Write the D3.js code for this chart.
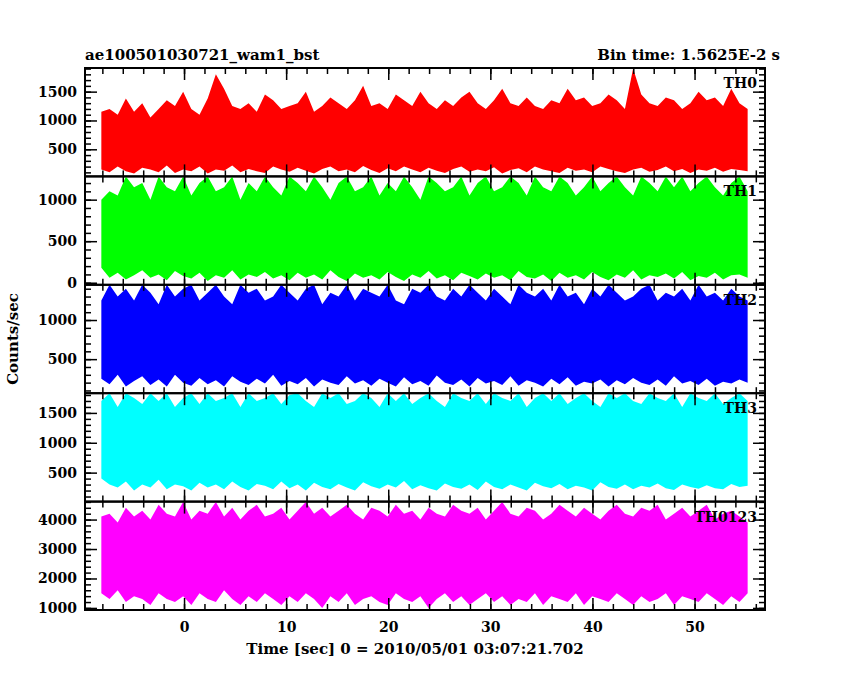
<!DOCTYPE html>
<html><head><meta charset="utf-8">
<script src="https://cdn.jsdelivr.net/npm/d3@7"></script>
<style>body{margin:0;background:#fff}text{font-family:"DejaVu Serif",serif;font-weight:bold}</style>
</head><body><div id="container"></div>
<script>
// time range of the data (sec), bins are evenly spaced between
const tStart = -8.1, tEnd = 55.2;

// per-bin upper / lower envelope of each light curve (counts/sec)
const th0Hi = [1150,1200,1100,1380,1150,1300,1050,1200,1350,1250,1500,1200,1100,1380,1800,1550,1250,1200,1300,1150,1450,1350,1200,1250,1300,1500,1150,1250,1400,1300,1200,1350,1600,1250,1300,1200,1450,1350,1250,1500,1300,1200,1350,1250,1400,1500,1300,1200,1350,1550,1300,1250,1400,1250,1200,1350,1300,1550,1350,1400,1250,1300,1450,1350,1200,1900,1450,1300,1250,1400,1350,1200,1300,1500,1350,1400,1250,1550,1300,1200];
const th0Lo = [150,100,200,120,80,180,150,100,220,90,150,120,200,80,150,130,220,100,160,120,90,200,150,110,180,130,80,160,200,120,150,100,210,140,90,170,120,200,150,100,180,130,90,160,200,110,150,120,190,80,140,170,100,200,150,120,90,180,130,150,100,200,160,120,90,150,180,110,140,200,120,160,90,150,130,180,110,160,140,120];
const th1Hi = [1000,1100,1050,1280,1150,1200,1000,1280,1150,1100,1280,1050,1200,1280,1100,1150,1280,1000,1200,1100,1280,1150,1050,1280,1200,1100,1280,1150,1000,1200,1280,1100,1150,1280,1050,1200,1100,1280,1150,1000,1280,1200,1100,1150,1280,1050,1200,1280,1100,1150,1280,1200,1050,1280,1150,1100,1280,1200,1050,1150,1280,1100,1200,1280,1150,1050,1280,1200,1100,1280,1150,1280,1100,1200,1280,1150,1050,1200,1280,1100];
const th1Lo = [180,60,120,40,90,150,60,100,30,140,80,50,120,20,90,60,150,40,100,70,130,50,90,30,120,60,100,40,150,70,20,110,60,90,40,130,70,20,100,60,140,50,90,30,120,80,40,110,60,90,30,140,70,50,100,20,120,60,90,40,130,70,30,100,60,150,40,90,70,110,50,130,30,80,60,120,40,90,100,60];
const th2Hi = [1250,1450,1300,1400,1250,1450,1350,1200,1450,1300,1400,1450,1250,1350,1450,1300,1200,1450,1350,1400,1250,1300,1450,1350,1250,1400,1450,1200,1350,1300,1450,1250,1400,1350,1300,1450,1250,1200,1400,1350,1450,1300,1250,1400,1300,1450,1350,1250,1400,1300,1200,1450,1350,1300,1400,1250,1450,1300,1350,1200,1400,1300,1450,1350,1250,1300,1400,1450,1250,1350,1300,1400,1250,1450,1300,1350,1250,1400,1300,1250];
const th2Lo = [250,180,300,150,220,280,170,240,150,300,200,160,260,180,230,150,280,210,170,250,190,300,160,220,180,260,150,240,200,170,280,190,230,160,250,200,150,270,180,220,160,290,200,170,240,150,260,190,220,170,280,160,230,200,150,250,180,270,160,210,190,240,150,230,180,260,200,170,240,160,280,190,220,170,250,160,210,190,240,200];
const th3Hi = [1700,1830,1600,1830,1750,1650,1830,1700,1830,1600,1750,1830,1650,1830,1700,1750,1830,1600,1830,1700,1750,1830,1650,1800,1830,1700,1600,1830,1750,1830,1650,1700,1830,1750,1600,1830,1700,1830,1650,1750,1830,1700,1600,1830,1750,1700,1830,1650,1830,1750,1700,1830,1600,1750,1830,1700,1830,1650,1750,1830,1700,1600,1830,1750,1830,1700,1650,1830,1750,1700,1830,1600,1830,1750,1700,1830,1650,1750,1830,1700];
const th3Lo = [400,300,250,350,200,300,250,380,220,300,270,200,330,250,300,220,350,260,200,310,280,220,350,240,300,200,330,260,220,310,250,200,340,270,230,300,250,360,220,290,240,200,320,260,230,300,210,350,260,220,300,250,200,330,270,240,310,220,280,250,200,340,260,230,300,220,280,250,320,240,210,300,260,230,290,240,220,310,260,280];
const th4Hi = [4100,4200,3900,4400,4100,4300,4000,4500,4200,4100,4600,4000,4300,4200,4600,4100,4400,4000,4300,4500,4100,4200,4400,4000,4300,4600,4200,4400,4100,4300,4500,4200,4000,4400,4300,4100,4500,4200,4300,4000,4400,4200,4100,4500,4300,4200,4400,4000,4300,4600,4200,4100,4400,4300,4000,4200,4500,4300,4100,4400,4200,4000,4300,4500,4200,4100,4400,4300,4500,4000,4200,4400,4100,4300,4500,4000,4200,4300,4100,3900];
const th4Lo = [1500,1300,1600,1200,1400,1300,1100,1500,1300,1200,1400,1100,1500,1300,1200,1600,1300,1100,1400,1200,1500,1300,1100,1400,1200,1500,1300,1000,1400,1200,1500,1100,1300,1400,1200,1100,1500,1300,1200,1400,1000,1300,1500,1200,1400,1100,1300,1500,1200,1400,1100,1300,1200,1500,1100,1400,1300,1200,1500,1100,1400,1300,1200,1500,1300,1100,1400,1200,1300,1500,1100,1400,1300,1200,1500,1300,1100,1400,1200,1500];

const panels = [
  {name: "TH0", hi: th0Hi, lo: th0Lo, color: "#ff0000", domain: [30, 1910], ticks: [500, 1000, 1500], minor: 100},
  {name: "TH1", hi: th1Hi, lo: th1Lo, color: "#00ff00", domain: [-25, 1280], ticks: [0, 500, 1000], minor: 100},
  {name: "TH2", hi: th2Hi, lo: th2Lo, color: "#0000ff", domain: [65, 1450], ticks: [500, 1000], minor: 100},
  {name: "TH3", hi: th3Hi, lo: th3Lo, color: "#00ffff", domain: [15, 1830], ticks: [500, 1000, 1500], minor: 100},
  {name: "TH0123", hi: th4Hi, lo: th4Lo, color: "#ff00ff", domain: [930, 4610], ticks: [1000, 2000, 3000, 4000], minor: 200}
];
const xTicks = [0, 10, 20, 30, 40, 50];

const W = 850, H = 680;
const mLeft = 85, mRight = 765, mTop = 68, mBottom = 610;
const ph = (mBottom - mTop) / panels.length;

const svg = d3.select("#container").append("svg").attr("width", W).attr("height", H);

const x = d3.scaleLinear().domain([-9.7, 56.9]).range([mLeft, mRight]);

panels.forEach((p, i) => {
  const y0 = mTop + i * ph;
  const y = d3.scaleLinear().domain(p.domain).range([y0 + ph, y0]);
  const n = p.hi.length;
  const dt = (tEnd - tStart) / (n - 1);
  const pts = p.hi.map((h, k) => ({t: tStart + k * dt, hi: h, lo: p.lo[k]}));

  const g = svg.append("g");
  g.append("clipPath").attr("id", "c" + i).append("rect")
    .attr("x", mLeft).attr("y", y0).attr("width", mRight - mLeft).attr("height", ph);
  g.append("path").datum(pts)
    .attr("clip-path", "url(#c" + i + ")")
    .attr("fill", p.color)
    .attr("d", d3.area()
      .x(d => x(d.t)).y0(d => y(d.lo)).y1(d => y(d.hi)));

  // y axes, both sides
  const yl = g.append("g").attr("transform", `translate(${mLeft},0)`)
    .call(d3.axisLeft(y).tickValues(p.ticks).tickSize(-12).tickFormat(d3.format("d")));
  const minorVals = d3.range(Math.ceil(p.domain[0] / p.minor) * p.minor, p.domain[1], p.minor);
  g.append("g").attr("transform", `translate(${mLeft},0)`)
    .call(d3.axisLeft(y).tickValues(minorVals).tickSize(-6).tickFormat(""));
  g.append("g").attr("transform", `translate(${mRight},0)`)
    .call(d3.axisRight(y).tickValues(p.ticks).tickSize(-12).tickFormat(""));
  g.append("g").attr("transform", `translate(${mRight},0)`)
    .call(d3.axisRight(y).tickValues(minorVals).tickSize(-6).tickFormat(""));
  g.selectAll(".domain").remove();
  yl.selectAll(".tick text").attr("x", -8).attr("font-size", 14)
    .style("font-family", "DejaVu Serif").style("font-weight", "bold").attr("fill", "#000");

  // x ticks for every panel, top and bottom edges
  const minorX = d3.range(-8, 57, 2);
  [[y0 + ph, -1], [y0, 1]].forEach(([yy, s]) => {
    g.append("g").attr("transform", `translate(0,${yy})`)
      .call(d3.axisBottom(x).tickValues(xTicks).tickSize(12 * s).tickFormat(""));
    g.append("g").attr("transform", `translate(0,${yy})`)
      .call(d3.axisBottom(x).tickValues(minorX).tickSize(6 * s).tickFormat(""));
  });
  g.selectAll(".domain").remove();
  g.selectAll(".tick line").attr("stroke", "#000").attr("stroke-width", 1.5);

  g.append("rect").attr("x", mLeft).attr("y", y0).attr("width", mRight - mLeft).attr("height", ph)
    .attr("fill", "none").attr("stroke", "#000").attr("stroke-width", 2);
  g.append("text").attr("x", mRight - 8).attr("y", y0 + 20).attr("text-anchor", "end")
    .attr("font-size", 14).text(p.name);
});

svg.append("g").attr("transform", `translate(0,${mBottom})`)
  .call(d3.axisBottom(x).tickValues(xTicks).tickSize(0).tickPadding(12))
  .call(g => g.select(".domain").remove())
  .selectAll("text").attr("font-size", 14).attr("fill", "#000")
  .style("font-family", "DejaVu Serif").style("font-weight", "bold");

svg.append("text").attr("x", (mLeft + mRight) / 2 - 10).attr("y", 654).attr("text-anchor", "middle")
  .attr("font-size", 15).text("Time [sec] 0 = 2010/05/01 03:07:21.702");
svg.append("text").attr("transform", `translate(18,${(mTop + mBottom) / 2}) rotate(-90)`)
  .attr("text-anchor", "middle").attr("font-size", 15).text("Counts/sec");
svg.append("text").attr("x", mLeft).attr("y", 60).attr("font-size", 15).text("ae100501030721_wam1_bst");
svg.append("text").attr("x", 780).attr("y", 60).attr("text-anchor", "end").attr("font-size", 15).text("Bin time: 1.5625E-2 s");
</script></body></html>
